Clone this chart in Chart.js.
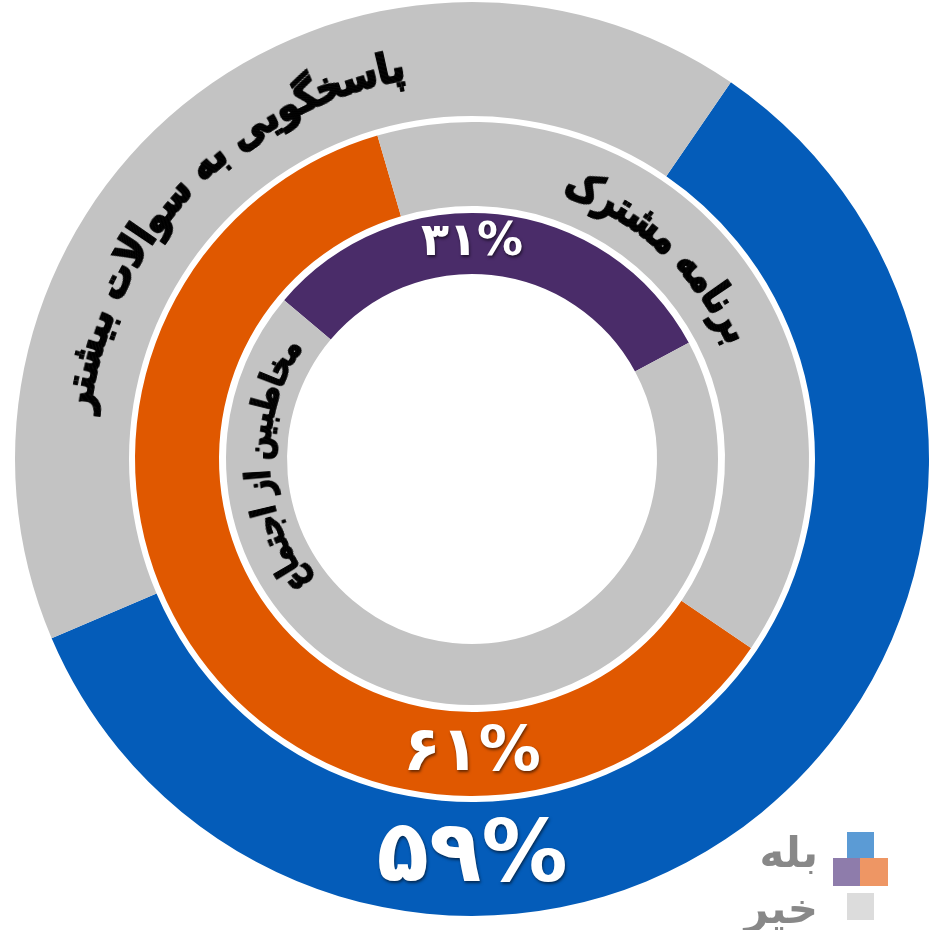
<!DOCTYPE html>
<html>
<head>
<meta charset="utf-8">
<script src="https://cdn.jsdelivr.net/npm/chart.js@4.4.1/dist/chart.umd.min.js"></script>
<style>
  html, body { margin:0; padding:0; background:#fff; }
  #wrap { position:relative; width:935px; height:930px; }
</style>
</head>
<body>
<div id="wrap"><canvas id="rings"></canvas></div>
<script>
// data
const ringLabels = ["پاسخگویی به سوالات بیشتر", "برنامه مشترک", "مخاطبین از اجتماع"];
const yesValues = [59, 61, 31];
const noValues = [41, 39, 69];
const legendLabels = ["بله", "خیر"];

const yesColors = ["#045cb9", "#e05800", "#4a2c69"];
const noColor = "#c3c3c3";
const ringStart = [34.5, 124.1, 310.2];   // where the "yes" arc starts (deg, clockwise from top)
const ringWeight = [114, 84, 61];
const gapWeight = [6, 7];

const FONT = "'DejaVu Sans', 'Noto Sans', sans-serif";

function toFa(n){
  return String(n).replace(/\d/g, d => "۰۱۲۳۴۵۶۷۸۹"[d]);
}

// build datasets: ring, gap, ring, gap, ring
const datasets = [];
yesValues.forEach((v, i) => {
  datasets.push({
    label: ringLabels[i],
    data: [v, noValues[i]],
    backgroundColor: [yesColors[i], noColor],
    rotation: ringStart[i],
    weight: ringWeight[i],
    borderWidth: 0
  });
  if (i < gapWeight.length) {
    datasets.push({ label:"gap", data:[1], backgroundColor:["rgba(0,0,0,0)"], weight:gapWeight[i], borderWidth:0 });
  }
});

/* curved text: draw once flat, then bend it column by column */
function drawArcText(ctx, text, cx, cy, r, a0, a1, size, weight, color){
  const off = document.createElement("canvas");
  const oc = off.getContext("2d");
  const font = weight + " " + size + "px " + FONT;
  oc.font = font;
  const w = Math.ceil(oc.measureText(text).width) + 4;
  const h = Math.ceil(size * 1.9);
  off.width = w; off.height = h;
  oc.font = font;
  oc.fillStyle = color;
  oc.strokeStyle = color;
  oc.lineWidth = size * 0.04;
  oc.textAlign = "center";
  oc.textBaseline = "middle";
  oc.direction = "rtl";
  oc.fillText(text, w/2, h/2);
  oc.strokeText(text, w/2, h/2);

  const span = (a1 - a0) * Math.PI / 180;
  const sw = span * r / w;
  for (let x = 0; x < w; x++) {
    const a = a0 * Math.PI / 180 + (x + 0.5) / w * span;
    ctx.save();
    ctx.translate(cx + r * Math.sin(a), cy - r * Math.cos(a));
    ctx.rotate(a);
    ctx.drawImage(off, x, 0, 1, h, -sw/2 - 0.3, -h/2, sw + 0.6, h);
    ctx.restore();
  }
}

const labelArcs = [
  { a0: 276.5, a1: 350.5, size: 42, weight: "bold" },
  { a0: 18.5,  a1: 66.5,  size: 42, weight: "bold" },
  { a0: 232.0, a1: 304.0, size: 34, weight: "bold" }
];
const valueSpots = [
  { angle: 180, size: 86 },
  { angle: 180, size: 62 },
  { angle: 0,   size: 46 }
];

const ringText = {
  id: "ringText",
  afterDatasetsDraw(chart){
    const ctx = chart.ctx;
    ringLabels.forEach((t, i) => {
      const arc = chart.getDatasetMeta(i * 2).data[0];
      const rMid = (arc.innerRadius + arc.outerRadius) / 2;
      const L = labelArcs[i];
      drawArcText(ctx, t, arc.x, arc.y, rMid - 4, L.a0, L.a1, L.size, L.weight, "#000");

      // percentage
      const s = valueSpots[i];
      const a = s.angle * Math.PI / 180;
      ctx.save();
      ctx.font = "bold " + s.size + "px " + FONT;
      ctx.fillStyle = "#fff";
      ctx.textAlign = "center";
      ctx.textBaseline = "middle";
      ctx.shadowColor = "rgba(0,0,0,0.55)";
      ctx.shadowOffsetX = 1;
      ctx.shadowOffsetY = 2;
      ctx.shadowBlur = 3;
      ctx.fillText(toFa(yesValues[i]) + "%", arc.x + rMid * Math.sin(a), arc.y - rMid * Math.cos(a));
      ctx.restore();
    });

    // legend
    ctx.save();
    ctx.fillStyle = "#5b9bd5"; ctx.fillRect(847, 832, 27, 26);
    ctx.fillStyle = "#8e7cab"; ctx.fillRect(833, 858, 27, 28);
    ctx.fillStyle = "#ee9664"; ctx.fillRect(860, 858, 28, 28);
    ctx.fillStyle = "#dcdcdc"; ctx.fillRect(847, 893, 27, 27);
    ctx.font = "bold 42px " + FONT;
    ctx.fillStyle = "#888888";
    ctx.textAlign = "right";
    ctx.textBaseline = "middle";
    ctx.fillText(legendLabels[0], 818, 856);
    ctx.fillText(legendLabels[1], 818, 912);
    ctx.restore();
  }
};

new Chart(document.getElementById("rings"), {
  type: "doughnut",
  data: { labels: legendLabels, datasets: datasets },
  options: {
    responsive: true,
    maintainAspectRatio: false,
    animation: false,
    cutout: 185,
    layout: { padding: { left:15, right:6, top:2, bottom:14 } },
    plugins: { legend:{ display:false }, tooltip:{ enabled:false } }
  },
  plugins: [ringText]
});
</script>
</body>
</html>
